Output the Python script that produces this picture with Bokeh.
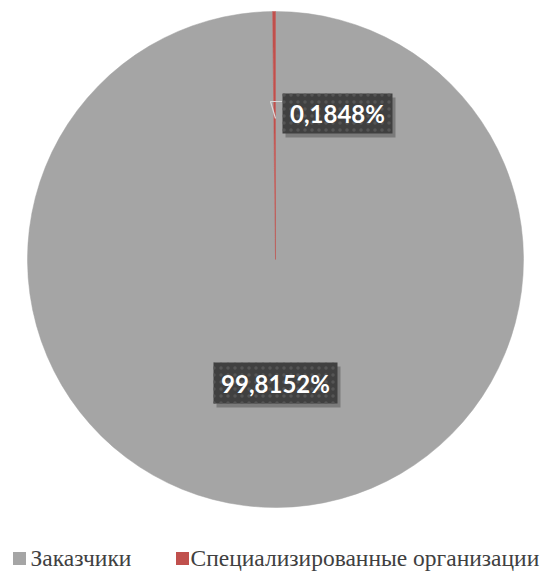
import numpy as np
from bokeh.plotting import figure
from bokeh.models import Range1d
from bokeh.core.properties import value
from bokeh.embed import file_html
from bokeh.resources import INLINE

categories = ["Заказчики", "Специализированные организации"]
shares = [99.8152, 0.1848]
colors = ["#A5A5A5", "#C0504D"]

W, H = 548, 571
p = figure(width=W, height=H, output_backend="svg", toolbar_location=None,
           x_range=Range1d(0, W), y_range=Range1d(0, H), min_border=0)
p.axis.visible = False
p.grid.visible = False
p.outline_line_color = None
p.background_fill_color = "white"

cx, cy, r = 275, 312, 248
fr = np.array(shares) / sum(shares)
ends = np.pi / 2 - 2 * np.pi * np.cumsum(fr)
starts = np.concatenate([[np.pi / 2], ends[:-1]])
for s, e, c in zip(starts, ends, colors):
    p.wedge(x=cx, y=cy, radius=r, start_angle=s, end_angle=e, direction="clock",
            fill_color=c, line_color=c, line_width=0.5)

# leader line for the small slice
p.line(x=[282, 270, 275], y=[571 - 101, 571 - 101, 571 - 118], line_color="#D9D9D9", line_width=1.2)

labels = [f"{v:.4f}".replace(".", ",") + "%" for v in shares]
boxes = [(275, 571 - 382.5, 124, 41), (337, 571 - 113, 110, 40)]
for lab, (bx, by, bw, bh) in zip(labels, boxes):
    p.rect(x=bx + 3, y=by - 4, width=bw, height=bh, fill_color="black", fill_alpha=0.25, line_color=None)
    p.rect(x=bx, y=by, width=bw, height=bh, fill_color="#404040", line_color=None,
           hatch_pattern=".", hatch_color="#555555", hatch_scale=7, hatch_weight=1)
    p.text(x=[bx], y=[by], text=[lab], text_color="white", text_font=value("Lato"),
           text_font_style="bold", text_font_size="24px", text_align="center", text_baseline="middle")

# legend
leg = [(12, 30), (175, 190)]
for (sx, tx), c, name in zip(leg, colors, categories):
    p.rect(x=sx + 7, y=571 - 558, width=13, height=13, fill_color=c, line_color=None)
    p.text(x=[tx], y=[571 - 557], text=[name], text_color="#404040",
           text_font=value("serif"), text_font_style="normal",
           text_font_size="23.5px", text_align="left", text_baseline="middle")

open("out.html", "w").write(file_html(p, INLINE))
